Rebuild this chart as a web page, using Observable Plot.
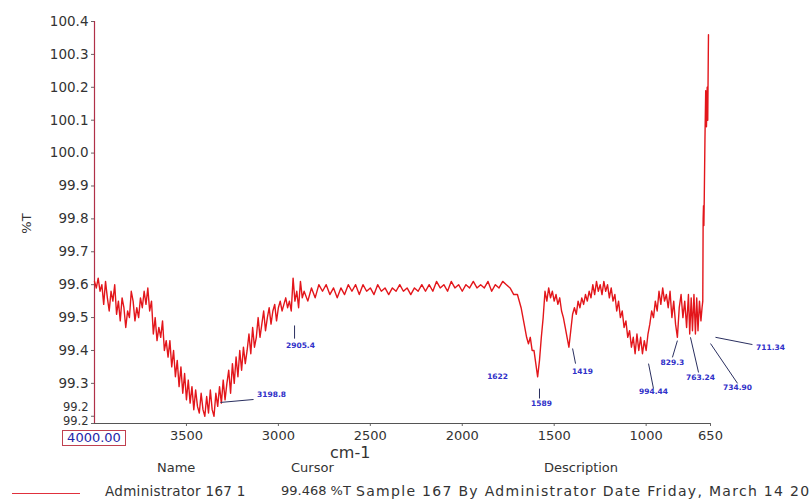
<!DOCTYPE html>
<html>
<head>
<meta charset="utf-8">
<script src="https://cdn.jsdelivr.net/npm/d3@7"></script>
<script src="https://cdn.jsdelivr.net/npm/@observablehq/plot@0.6"></script>
<style>
  html, body { margin: 0; padding: 0; background: #fff; }
  #wrap { position: relative; width: 810px; height: 499px; overflow: hidden; font-family: "DejaVu Sans", sans-serif; color: #333; }
  .abs { position: absolute; white-space: nowrap; }
</style>
</head>
<body>
<div id="wrap"></div>
<script>
// ---- data ----
const wavenumber = [
  4000,3990,3980,3970,3960,3950,3940,3930,3920,3910,3900,3890,3880,3870,3860,3850,3840,3830,3820,3810,
  3800,3790,3780,3770,3760,3750,3740,3730,3720,3710,3700,3690,3680,3670,3660,3650,3640,3630,3620,3610,
  3600,3590,3580,3570,3560,3550,3540,3530,3520,3510,3500,3490,3480,3470,3460,3450,3440,3430,3420,3410,
  3400,3390,3380,3370,3360,3350,3340,3330,3320,3310,3300,3290,3280,3270,3260,3250,3240,3230,3220,3210,
  3200,3190,3180,3170,3160,3150,3140,3130,3120,3110,3100,3090,3080,3070,3060,3050,3040,3030,3020,3010,
  3000,2990,2980,2970,2960,2950,2940,2930,2920,2910,2900,2890,2880,2870,2860,2840,2820,
  2800,2780,2760,2740,2720,2700,2680,2660,2640,2620,2600,2580,2560,2540,2520,2500,2480,2460,2440,2420,
  2400,2380,2360,2340,2320,2300,2280,2260,2240,2220,2200,2180,2160,2140,2120,2100,2080,2060,2040,2020,
  2000,1980,1960,1940,1920,1900,1880,1860,1840,1820,1800,1780,1760,1740,1720,
  1700,1680,1660,1650,1640,1630,1620,1610,1600,1590,1580,1570,1560,1550,1540,1530,1520,1510,1500,1490,
  1480,1470,1460,1450,1440,1430,1420,1410,1400,1390,1380,1370,1360,1350,1340,1330,1320,1310,1300,1290,
  1280,1270,1260,1250,1240,1230,1220,1210,1200,1190,1180,1170,1160,1150,1140,1130,1120,1110,1100,1090,
  1080,1070,1060,1050,1040,1030,1020,1010,1000,990,980,970,960,950,940,930,920,910,900,890,
  880,870,860,850,840,830,820,810,800,790,780,770,763,755,748,740,732,725,718,710,
  702,696,692,690,688,686,684,680,676,672,668,665,662,661
];
const transmittance = [
  99.61,99.59,99.62,99.58,99.60,99.54,99.61,99.56,99.52,99.58,99.55,99.60,99.51,99.55,99.49,99.56,99.53,99.47,99.52,99.50,
  99.58,99.55,99.49,99.53,99.50,99.56,99.53,99.58,99.54,99.59,99.52,99.55,99.45,99.50,99.43,99.47,99.44,99.49,99.40,99.43,
  99.38,99.43,99.35,99.40,99.32,99.37,99.29,99.35,99.27,99.33,99.25,99.31,99.24,99.29,99.22,99.28,99.23,99.21,99.27,99.22,
  99.20,99.26,99.21,99.28,99.22,99.20,99.27,99.23,99.29,99.24,99.31,99.25,99.30,99.34,99.27,99.36,99.30,99.38,99.32,99.40,
  99.34,99.41,99.36,99.40,99.45,99.39,99.47,99.41,99.44,99.50,99.44,99.48,99.52,99.46,99.50,99.53,99.48,99.52,99.54,99.49,
  99.53,99.55,99.52,99.54,99.56,99.53,99.55,99.52,99.62,99.55,99.58,99.53,99.61,99.56,99.58,99.55,99.59,
  99.56,99.60,99.58,99.60,99.57,99.59,99.56,99.59,99.57,99.60,99.58,99.60,99.57,99.60,99.58,99.59,99.57,99.60,99.58,99.59,
  99.57,99.59,99.58,99.60,99.58,99.59,99.57,99.59,99.58,99.60,99.58,99.60,99.58,99.61,99.59,99.60,99.58,99.61,99.59,99.60,
  99.58,99.60,99.59,99.61,99.59,99.60,99.59,99.61,99.58,99.60,99.59,99.61,99.60,99.59,99.57,
  99.57,99.53,99.47,99.44,99.42,99.44,99.40,99.40,99.36,99.32,99.37,99.44,99.50,99.58,99.55,99.59,99.56,99.58,99.55,99.57,
  99.54,99.56,99.52,99.50,99.47,99.44,99.41,99.46,99.51,99.53,99.51,99.55,99.53,99.56,99.54,99.57,99.55,99.58,99.56,99.60,
  99.57,99.61,99.58,99.60,99.57,99.61,99.58,99.60,99.56,99.59,99.55,99.57,99.52,99.55,99.50,99.52,99.47,99.49,99.44,99.46,
  99.41,99.44,99.39,99.45,99.40,99.44,99.39,99.43,99.40,99.45,99.48,99.52,99.50,99.55,99.52,99.58,99.54,99.59,99.55,99.57,
  99.53,99.58,99.50,99.55,99.48,99.44,99.53,99.57,99.50,99.55,99.47,99.57,99.45,99.56,99.46,99.57,99.45,99.56,99.46,99.55,
  99.49,99.53,99.55,99.80,99.84,99.78,99.86,100.05,100.19,100.08,100.20,100.10,100.30,100.36
];

const yTicks = [99.2, 99.3, 99.4, 99.5, 99.6, 99.7, 99.8, 99.9, 100.0, 100.1, 100.2, 100.3, 100.4];
const yTickLabels = ["99.2", "99.3", "99.4", "99.5", "99.6", "99.7", "99.8", "99.9", "100.0", "100.1", "100.2", "100.3", "100.4"];
const yAxisEnd = 99.178;
const yAxisEndLabel = "99.2";
const xTicks = [3500, 3000, 2500, 2000, 1500, 1000, 650];
const xStartLabel = "4000.00";

// peak annotations (data units)
const peakText   = ["3198.8", "2905.4", "1622", "1589", "1419", "994.44", "829.3", "763.24", "734.90", "711.34"];
const peakTextX  = [3037, 2880, 1808, 1569, 1346, 960, 857, 704, 503, 324];
const peakTextY  = [99.266, 99.415, 99.321, 99.239, 99.336, 99.275, 99.364, 99.318, 99.288, 99.409];
const leaderX1 = [3315, 2912, 1580, 1400, 987, 830, 759, 650, 623];
const leaderY1 = [99.242, 99.476, 99.284, 99.406, 99.360, 99.430, 99.440, 99.421, 99.440];
const leaderX2 = [3135, 2912, 1580, 1384, 960, 857, 715, 503, 422];
const leaderY2 = [99.251, 99.436, 99.254, 99.360, 99.284, 99.379, 99.333, 99.300, 99.418];

const legendName = "Administrator 167  1";
const legendCursor = "99.468 %T";
const legendDesc = "Sample 167 By Administrator Date Friday, March 14 20";

// ---- build tables ----
const spectrum = wavenumber.map((w, i) => ({w, t: transmittance[i]}));
const peaks = peakText.map((s, i) => ({s, x: peakTextX[i], y: peakTextY[i]}));
const leaders = leaderX1.map((x1, i) => ({x1, y1: leaderY1[i], x2: leaderX2[i], y2: leaderY2[i]}));
const yLab = yTicks.map((v, i) => ({v, s: yTickLabels[i]}));

const chart = Plot.plot({
  width: 810,
  height: 455,
  marginTop: 21,
  marginBottom: 32,
  marginLeft: 94,
  marginRight: 100,
  x: {domain: [4000, 650]},
  y: {domain: [yAxisEnd, 100.4]},
  style: {fontFamily: "DejaVu Sans, sans-serif", fontSize: "13px", color: "#333", background: "transparent", overflow: "visible"},
  marks: [
    Plot.axisY({ticks: [...yTicks, yAxisEnd], tickSize: 3, tickFormat: () => "", label: null, stroke: "#666"}),
    Plot.text(yLab.filter(d => d.v > 99.25), {frameAnchor: "left", y: "v", text: "s", textAnchor: "end", dx: -6, fontSize: 13.5, fill: "#333"}),
    Plot.text(yLab.filter(d => d.v < 99.25), {frameAnchor: "left", y: "v", text: "s", textAnchor: "end", dx: -6, dy: -9, fontSize: 11.5, fill: "#333"}),
    Plot.text([yAxisEnd], {frameAnchor: "left", y: d => d, text: () => yAxisEndLabel, textAnchor: "end", dx: -6, dy: -2, fontSize: 11.5, fill: "#333"}),
    Plot.axisX({ticks: xTicks, tickSize: 3, tickPadding: 4, tickFormat: d => String(d), label: null, stroke: "#666", fontSize: 13}),
    Plot.ruleY([yAxisEnd], {stroke: "#555", strokeWidth: 1}),
    Plot.ruleX([4000], {stroke: "#b03048", strokeWidth: 1.2}),
    Plot.line(spectrum, {x: "w", y: "t", stroke: "#e3161b", strokeWidth: 1.4, curve: "linear"}),
    Plot.link(leaders, {x1: "x1", y1: "y1", x2: "x2", y2: "y2", stroke: "#2a2f60", strokeWidth: 1}),
    Plot.text(peaks, {x: "x", y: "y", text: "s", fill: "#3030c8", fontSize: 7.5, fontWeight: "bold"})
  ]
});
chart.style.position = "absolute";
chart.style.left = "0px";
chart.style.top = "0px";

const wrap = document.getElementById("wrap");
wrap.appendChild(chart);

function addText(txt, css) {
  const d = document.createElement("div");
  d.className = "abs";
  d.textContent = txt;
  Object.assign(d.style, css);
  wrap.appendChild(d);
  return d;
}
// y axis title
addText("%T", {left: "16px", top: "216px", fontSize: "13px", transform: "rotate(-90deg)", transformOrigin: "center"});
// start label box
addText(xStartLabel, {left: "62px", top: "430px", width: "62px", textAlign: "center", fontSize: "13px", color: "#2424a8", border: "1px solid #c0404f", background: "#fff", lineHeight: "14px"});
// x axis title
addText("cm-1", {left: "330px", top: "443px", fontSize: "16px", color: "#333"});
// legend header
addText("Name", {left: "157px", top: "460px", fontSize: "13px"});
addText("Cursor", {left: "291px", top: "460px", fontSize: "13px"});
addText("Description", {left: "544px", top: "460px", fontSize: "13px"});
// legend row
const sw = document.createElement("div");
sw.className = "abs";
Object.assign(sw.style, {left: "12px", top: "493px", width: "68px", height: "0", borderTop: "1.5px solid #e0303c"});
wrap.appendChild(sw);
addText(legendName, {left: "105px", top: "483px", fontSize: "13.5px", letterSpacing: "0.3px"});
addText(legendCursor, {left: "281px", top: "483px", fontSize: "13px"});
addText(legendDesc, {left: "356px", top: "483px", fontSize: "14px", letterSpacing: "1.3px"});
</script>
</body>
</html>
